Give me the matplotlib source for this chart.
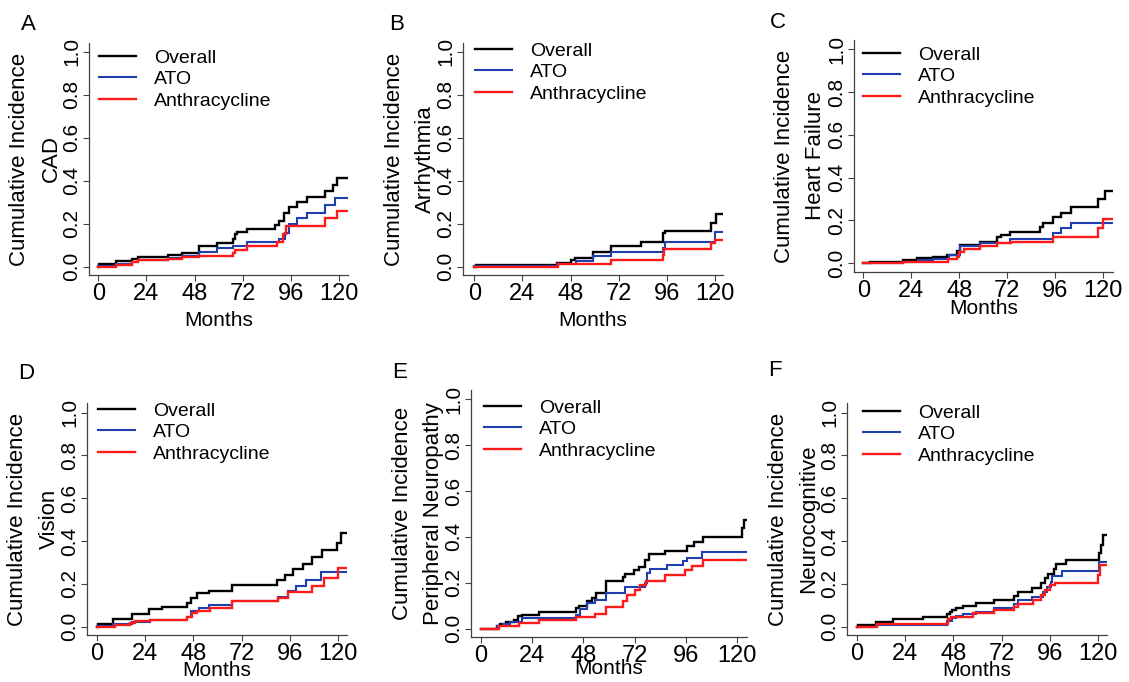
import matplotlib
matplotlib.use("Agg")
import matplotlib.pyplot as plt

plt.rcParams['font.family'] = ['Liberation Sans', 'DejaVu Sans']

# ---------------- data ----------------
panel_letters = ['A', 'B', 'C', 'D', 'E', 'F']
outcomes = ['CAD', 'Arrhythmia', 'Heart Failure', 'Vision',
            'Peripheral Neuropathy', 'Neurocognitive']
series_names = ['Overall', 'ATO', 'Anthracycline']
x_ticks = [0, 24, 48, 72, 96, 120]
y_ticks = [0.0, 0.2, 0.4, 0.6, 0.8, 1.0]
y_tick_labels = ['0.0', '0.2', '0.4', '0.6', '0.8', '1.0']

# A - CAD
cad_overall_t = [0, 0.5, 9, 17, 20, 35, 42, 50, 59, 67, 68, 69, 74, 88, 90, 92.5, 95, 99, 104, 113, 117, 119, 124]
cad_overall_y = [0, 0.012, 0.026, 0.036, 0.044, 0.054, 0.065, 0.096, 0.112, 0.128, 0.15, 0.16, 0.174, 0.194, 0.213, 0.25, 0.275, 0.30, 0.324, 0.353, 0.381, 0.413, 0.413]
cad_ato_t = [0, 9, 17, 20, 35, 42, 50, 59, 67, 74, 90, 93, 95, 99, 104, 113, 118, 124]
cad_ato_y = [0.003, 0.01, 0.022, 0.032, 0.04, 0.05, 0.07, 0.085, 0.095, 0.115, 0.13, 0.155, 0.20, 0.225, 0.25, 0.285, 0.32, 0.32]
cad_anth_t = [0, 9, 17, 20, 35, 42, 50, 67, 68, 74, 89, 92, 93.5, 95, 113, 119, 124]
cad_anth_y = [0, 0.008, 0.02, 0.03, 0.035, 0.045, 0.05, 0.065, 0.078, 0.096, 0.115, 0.15, 0.187, 0.19, 0.225, 0.26, 0.26]

# B - Arrhythmia
arr_overall_t = [0, 0.7, 41.3, 48, 50, 59, 68, 83, 94, 95, 118, 120.4, 124]
arr_overall_y = [0, 0.008, 0.019, 0.03, 0.039, 0.07, 0.096, 0.116, 0.155, 0.166, 0.205, 0.243, 0.243]
arr_ato_t = [0, 41.3, 50.5, 59, 68, 94, 95.3, 120, 124]
arr_ato_y = [0.003, 0.011, 0.026, 0.05, 0.068, 0.088, 0.115, 0.161, 0.161]
arr_anth_t = [0, 42, 68, 94, 94.5, 118, 120, 124]
arr_anth_y = [0, 0.011, 0.03, 0.053, 0.081, 0.112, 0.122, 0.122]

# C - Heart Failure
hf_overall_t = [0, 3.3, 20, 26.7, 35, 42, 46.7, 48.5, 58.3, 66.7, 69, 73.3, 88.3, 90, 94.7, 98.7, 103.7, 117.5, 120.8, 124.5]
hf_overall_y = [0, 0.008, 0.016, 0.023, 0.031, 0.039, 0.059, 0.085, 0.1, 0.121, 0.132, 0.147, 0.171, 0.189, 0.214, 0.236, 0.264, 0.298, 0.336, 0.336]
hf_ato_t = [0, 20, 27.5, 35, 43, 48.5, 58.3, 73.3, 95, 99, 103.7, 124.5]
hf_ato_y = [0, 0.008, 0.016, 0.02, 0.039, 0.08, 0.093, 0.112, 0.14, 0.163, 0.19, 0.19]
hf_anth_t = [0, 20, 42.5, 46.7, 48, 50.3, 58.3, 66.7, 73.7, 95, 117.5, 120, 124.5]
hf_anth_y = [0, 0.008, 0.019, 0.031, 0.054, 0.065, 0.081, 0.093, 0.10, 0.124, 0.163, 0.205, 0.205]

# D - Vision
vis_overall_t = [0, 0.8, 8.3, 17.5, 25.8, 32.5, 44.7, 46.7, 50, 55.8, 67, 89.5, 93.5, 97.7, 102.6, 106.8, 111.8, 119.5, 121.5, 124.3]
vis_overall_y = [0, 0.011, 0.034, 0.06, 0.082, 0.091, 0.11, 0.133, 0.157, 0.168, 0.196, 0.216, 0.243, 0.268, 0.295, 0.324, 0.357, 0.39, 0.436, 0.436]
vis_ato_t = [0, 8.3, 17.5, 26.7, 45, 46.7, 50.8, 55.8, 67, 90, 95, 99, 103.7, 111.5, 124.3]
vis_ato_y = [0.003, 0.013, 0.024, 0.031, 0.047, 0.072, 0.089, 0.102, 0.118, 0.138, 0.165, 0.191, 0.219, 0.254, 0.254]
vis_anth_t = [0, 9, 16.7, 19, 26.7, 45, 47.5, 50, 56.3, 67, 90, 95, 107, 113, 120, 124.3]
vis_anth_y = [0, 0.008, 0.019, 0.028, 0.031, 0.047, 0.063, 0.074, 0.085, 0.118, 0.135, 0.16, 0.19, 0.228, 0.272, 0.272]

# E - Peripheral Neuropathy
pn_overall_t = [0, 7.5, 9, 12, 15.3, 17.2, 19.2, 27, 44.7, 46, 49.7, 52, 54, 58.8, 66.6, 67.7, 71.6, 74, 77, 78.6, 86.4, 96.6, 99.7, 104, 122.3, 123.3, 124.5]
pn_overall_y = [0, 0.012, 0.02, 0.03, 0.04, 0.055, 0.06, 0.073, 0.09, 0.10, 0.12, 0.135, 0.157, 0.208, 0.225, 0.24, 0.255, 0.27, 0.30, 0.325, 0.34, 0.36, 0.38, 0.40, 0.44, 0.474, 0.474]
pn_ato_t = [0, 7.5, 10.5, 13.8, 19.2, 44.7, 46.5, 49.7, 53.6, 58.8, 67.3, 77, 78, 79, 87.2, 94.7, 96.6, 103.6, 124.5]
pn_ato_y = [0, 0.01, 0.02, 0.03, 0.045, 0.06, 0.085, 0.11, 0.124, 0.157, 0.182, 0.2, 0.244, 0.259, 0.278, 0.295, 0.31, 0.335, 0.335]
pn_anth_t = [0, 8.3, 17.7, 27, 44.7, 53.6, 58.8, 66.6, 68.4, 72.3, 74.7, 77.5, 86.4, 95.8, 98.9, 104, 124.5]
pn_anth_y = [0, 0.012, 0.026, 0.036, 0.051, 0.063, 0.095, 0.12, 0.145, 0.167, 0.19, 0.21, 0.234, 0.255, 0.273, 0.30, 0.30]

# F - Neurocognitive
nc_overall_t = [0, 0.5, 9.7, 18, 33, 44.7, 46.5, 47.5, 49.2, 53, 59.2, 68, 78.3, 80, 87, 91.7, 93.7, 95, 98, 99, 103.7, 120.5, 121.5, 122.5, 124.3]
nc_overall_y = [0, 0.008, 0.023, 0.034, 0.044, 0.06, 0.07, 0.078, 0.089, 0.098, 0.112, 0.124, 0.143, 0.163, 0.179, 0.204, 0.225, 0.246, 0.27, 0.292, 0.311, 0.342, 0.38, 0.428, 0.428]
nc_ato_t = [0, 9.7, 45, 47.5, 49.5, 53, 59.2, 68, 78.3, 80, 87, 92.5, 94.5, 96.3, 97, 102, 120.5, 124.3]
nc_ato_y = [0, 0.008, 0.026, 0.039, 0.05, 0.06, 0.07, 0.085, 0.104, 0.124, 0.14, 0.163, 0.187, 0.21, 0.235, 0.26, 0.30, 0.30]
nc_anth_t = [0, 10, 45.3, 46.7, 58, 68, 78.3, 80, 87.5, 91.7, 93.7, 95.8, 98.3, 120, 121, 124.3]
nc_anth_y = [0, 0.012, 0.035, 0.047, 0.062, 0.078, 0.093, 0.104, 0.124, 0.148, 0.171, 0.194, 0.205, 0.24, 0.288, 0.288]

panel_series = [
    [(cad_overall_t, cad_overall_y), (cad_ato_t, cad_ato_y), (cad_anth_t, cad_anth_y)],
    [(arr_overall_t, arr_overall_y), (arr_ato_t, arr_ato_y), (arr_anth_t, arr_anth_y)],
    [(hf_overall_t, hf_overall_y), (hf_ato_t, hf_ato_y), (hf_anth_t, hf_anth_y)],
    [(vis_overall_t, vis_overall_y), (vis_ato_t, vis_ato_y), (vis_anth_t, vis_anth_y)],
    [(pn_overall_t, pn_overall_y), (pn_ato_t, pn_ato_y), (pn_anth_t, pn_anth_y)],
    [(nc_overall_t, nc_overall_y), (nc_ato_t, nc_ato_y), (nc_anth_t, nc_anth_y)],
]

# ---------------- layout / style ----------------
W, H, DPI = 1129, 682, 100
colors = ['#000000', '#1f3fae', '#ff1a1a']
widths = [1.7, 1.5, 1.7]

# axes boxes in pixels: left, right, top, bottom
boxes = [(89, 348, 43, 275), (463, 723, 43, 275), (854, 1113, 40, 272),
         (87, 347, 403, 635), (471, 747, 390, 637), (847, 1107, 403, 635)]
xlims = [(-4.6, 124.5), (-5.6, 124.0), (-4.6, 124.8),
         (-4.8, 124.3), (-4.6, 124.6), (-4.8, 124.3)]
ylims = [(-0.039, 1.04), (-0.039, 1.04), (-0.041, 1.043),
         (-0.039, 1.045), (-0.036, 1.04), (-0.039, 1.045)]
letter_pos = [(28, 24), (397, 24), (778, 22), (26, 374), (400, 372), (775, 370)]
months_off = [45, 45, 36, 35, 32, 35]
leg_pos = [(10, 17), (12, 10), (9, 17), (11, 10), (13, 20), (16, 12)]

fig = plt.figure(figsize=(W / DPI, H / DPI), dpi=DPI)
fig.patch.set_facecolor('white')

for i in range(6):
    l, r, t, b = boxes[i]
    ax = fig.add_axes([l / W, 1 - b / H, (r - l) / W, (b - t) / H])
    for k, (tt, yy) in enumerate(panel_series[i]):
        ax.step(tt, yy, where='post', color=colors[k], lw=widths[k],
                label=series_names[k], solid_joinstyle='miter')
    ax.set_xlim(*xlims[i])
    ax.set_ylim(*ylims[i])
    ax.spines['top'].set_visible(False)
    ax.spines['right'].set_visible(False)
    for s in ('left', 'bottom'):
        ax.spines[s].set_color('#404040')
        ax.spines[s].set_linewidth(0.9)
    ax.set_xticks(x_ticks)
    ax.set_xticklabels([str(v) for v in x_ticks], fontsize=17)
    ax.set_yticks(y_ticks)
    ax.set_yticklabels(y_tick_labels, fontsize=15, rotation=90, va='center')
    ax.tick_params(axis='both', direction='out', length=4.3, width=0.8,
                   color='#404040', pad=1.5)

    # legend
    lx, ly = leg_pos[i]
    ax.legend(loc='upper left',
              bbox_to_anchor=(lx / (r - l), 1 - (ly - 11) / (b - t)),
              frameon=False, fontsize=14, handlelength=1.9,
              handletextpad=0.95, labelspacing=0.2, borderpad=0,
              borderaxespad=0)

    # axis labels
    cx = (l + r) / 2
    cy = (t + b) / 2
    fig.text(cx / W, 1 - (b + months_off[i]) / H, 'Months', fontsize=15,
             ha='center', va='center')
    fig.text((l - 69) / W, 1 - cy / H, 'Cumulative Incidence', fontsize=16,
             rotation=90, ha='center', va='center')
    fig.text((l - 38) / W, 1 - cy / H, outcomes[i], fontsize=16,
             rotation=90, ha='center', va='center')
    px, py = letter_pos[i]
    fig.text(px / W, 1 - py / H, panel_letters[i], fontsize=16,
             ha='center', va='center')

fig.savefig('out.png', dpi=DPI, facecolor='white')
